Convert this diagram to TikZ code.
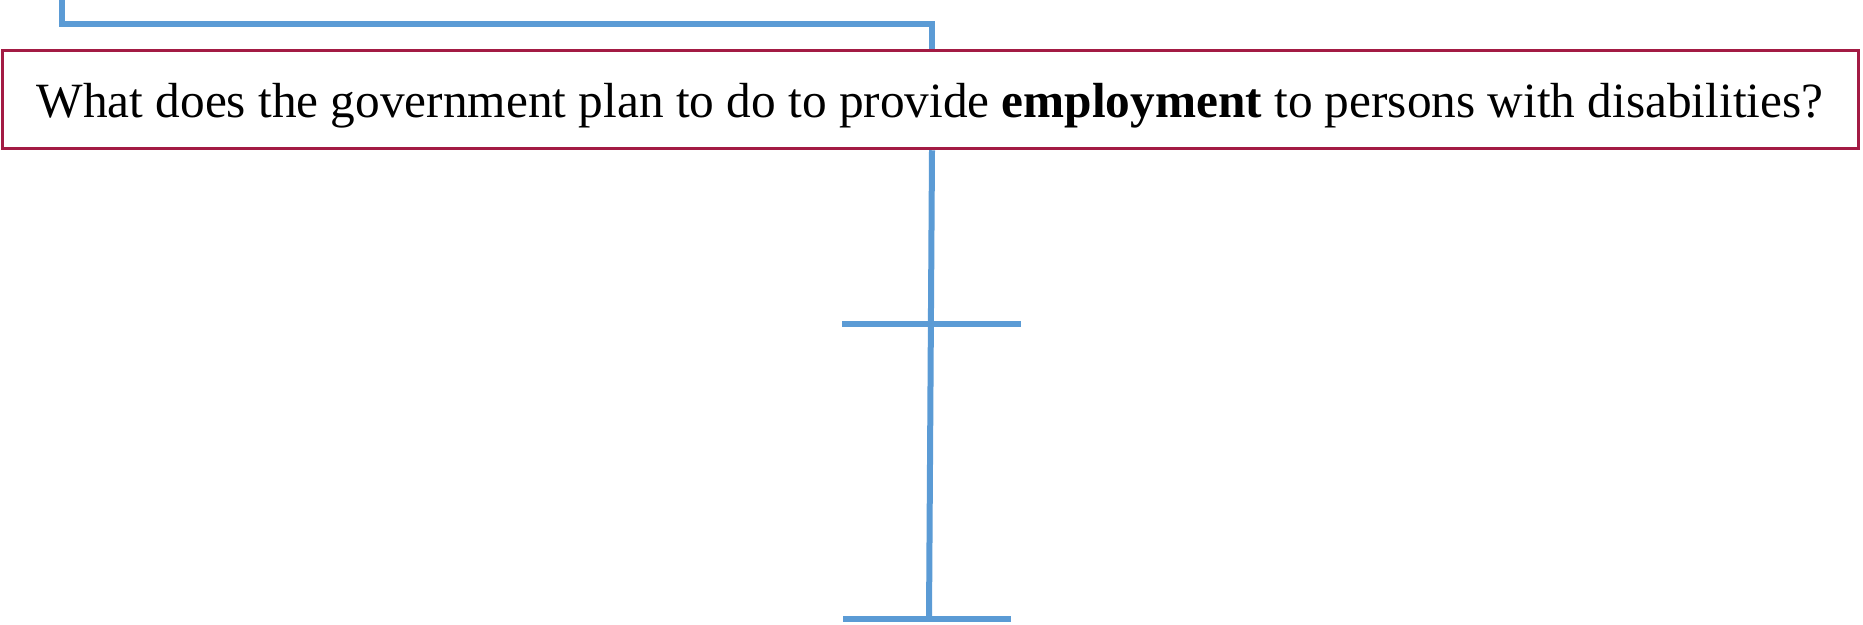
\documentclass[tikz,border=0pt]{standalone}
\usepackage{fontspec}
\setmainfont{Liberation Serif}
\definecolor{boxred}{HTML}{A31B44}
\definecolor{lineblue}{HTML}{5B9BD5}
\begin{document}
\begin{tikzpicture}[x=1pt,y=-1pt,
  qbox/.style={draw=boxred,line width=3.5pt,fill=white,minimum width=1856pt,minimum height=98pt,inner sep=0pt},
  qtext/.style={inner sep=0pt,anchor=base,font=\fontsize{49.3}{57}\selectfont},
  conn/.style={draw=lineblue,line width=6pt}]
\useasboundingbox (0,0) rectangle (1863,624);
\coordinate (tl) at (62,0);
\coordinate (tc) at (62,24);
\coordinate (tr) at (932,24);
\coordinate (b1l) at (842,324);
\coordinate (b1r) at (1021,324);
\coordinate (b2l) at (843,619);
\coordinate (b2r) at (1011,619);
\coordinate (bot) at (929,619);
\node[qbox] (q) at (930.5,99.5) {};
\node[qtext] (qt) at (930,117) {What does the government plan to do to provide \textbf{employment} to persons with disabilities?};
\draw[conn] (tl) -- (tc) -- (tr) -- (q.north -| tr);
\draw[conn] (q.south -| tr) -- (bot);
\draw[conn] (b1l) -- (b1r);
\draw[conn] (b2l) -- (b2r);
\end{tikzpicture}
\end{document}
